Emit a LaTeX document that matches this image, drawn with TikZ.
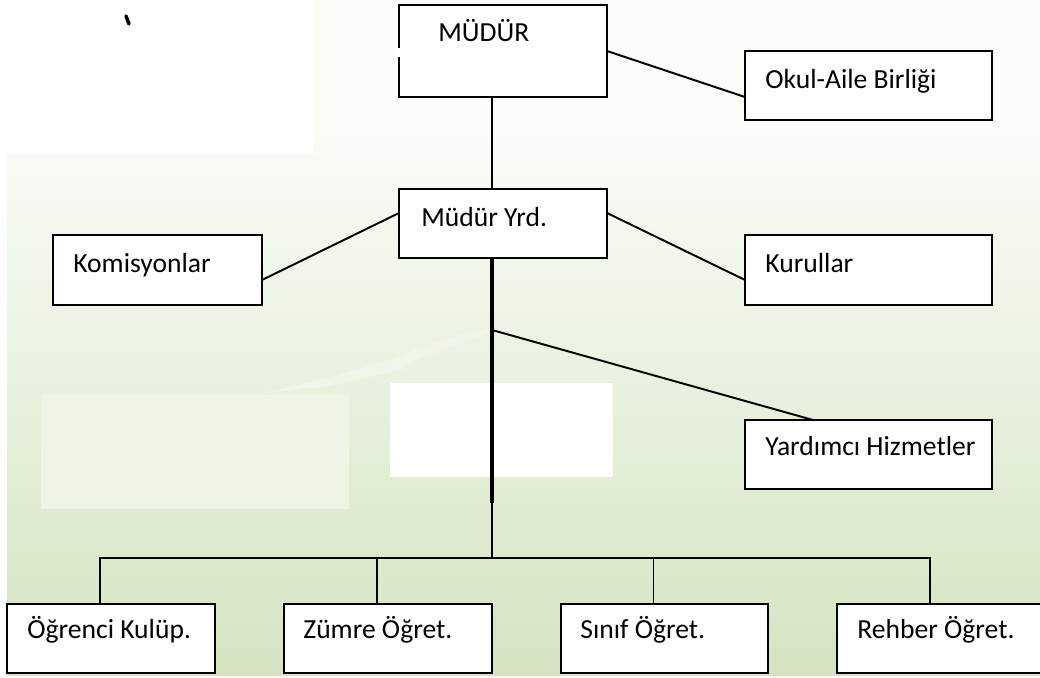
\documentclass[tikz,border=0pt]{standalone}
\usepackage{fontspec}
\setmainfont{Carlito}
\begin{document}
\begin{tikzpicture}[x=0.02cm,y=-0.02cm]
\newcommand{\pxlen}{0.02cm}
\tikzstyle{box}=[draw,line width=1.1pt,fill=white,anchor=north west,inner sep=0pt,outer sep=0pt]
\tikzstyle{lbl}=[anchor=base west,inner sep=0pt,font=\fontsize{15.7}{18}\selectfont]
\tikzstyle{edge}=[line width=1.1pt]
\tikzstyle{trunk}=[line width=2.6pt]
\definecolor{bgtop}{RGB}{251,253,249}
\definecolor{bggreen}{RGB}{212,228,193}
\definecolor{paleblock}{RGB}{238,244,230}
\definecolor{streak}{RGB}{240,246,234}
\useasboundingbox (0,0) rectangle (1040,678);
\clip (0,0) rectangle (1040,678);
% background
\fill[white] (0,0) rectangle (1040,678);
\fill[bgtop] (7,0) rectangle (1040,120);
\shade[top color=bgtop,bottom color=bggreen] (7,120) rectangle (1040,675);
\fill[white] (0,0) rectangle (313,153);
\fill[paleblock] (41,395) rectangle (349,509);
\fill[streak] (265,393) -- (330,377) -- (395,358) -- (420,347) -- (490,326) -- (490,333) -- (420,358) -- (400,370) -- (330,386) -- cycle;
\fill[white] (390,383) rectangle (613,477);
\draw[line width=2pt,line cap=round] (126,16) -- (129,24);
% boxes
\node[box,minimum width=208*\pxlen,minimum height=92*\pxlen] (mudur) at (399,5) {};
\node[box,minimum width=208*\pxlen,minimum height=69*\pxlen] (yrd) at (399,189) {};
\node[box,minimum width=247*\pxlen,minimum height=69*\pxlen] (okul) at (745,51) {};
\node[box,minimum width=209*\pxlen,minimum height=70*\pxlen] (komisyon) at (53,235) {};
\node[box,minimum width=247*\pxlen,minimum height=70*\pxlen] (kurul) at (745,235) {};
\node[box,minimum width=247*\pxlen,minimum height=69*\pxlen] (yardimci) at (745,420) {};
\node[box,minimum width=208*\pxlen,minimum height=69*\pxlen] (ogrenci) at (7,604) {};
\node[box,minimum width=208*\pxlen,minimum height=69*\pxlen] (zumre) at (284,604) {};
\node[box,minimum width=207*\pxlen,minimum height=69*\pxlen] (sinif) at (561,604) {};
\node[box,minimum width=260*\pxlen,minimum height=69*\pxlen] (rehber) at (837,604) {};
\fill[white] (396,48) rectangle (402,57);
% labels
\node[lbl] (tmudur) at ([shift={(39,37)}]mudur.north west) {MÜDÜR};
\node[lbl] (tyrd) at ([shift={(22,38)}]yrd.north west) {Müdür Yrd.};
\node[lbl] (tokul) at ([shift={(20,38)}]okul.north west) {Okul-Aile Birliği};
\node[lbl] (tkomisyon) at ([shift={(20,38)}]komisyon.north west) {Komisyonlar};
\node[lbl] (tkurul) at ([shift={(20,38)}]kurul.north west) {Kurullar};
\node[lbl] (tyardimci) at ([shift={(20,35)}]yardimci.north west) {Yardımcı Hizmetler};
\node[lbl] (togrenci) at ([shift={(20,34)}]ogrenci.north west) {Öğrenci Kulüp.};
\node[lbl] (tzumre) at ([shift={(19,34)}]zumre.north west) {Zümre Öğret.};
\node[lbl] (tsinif) at ([shift={(19,34)}]sinif.north west) {Sınıf Öğret.};
\node[lbl] (trehber) at ([shift={(20,34)}]rehber.north west) {Rehber Öğret.};
% connectors
\coordinate (trunkend) at (492,503);
\coordinate (branch) at (492,330);
\coordinate (bus) at (492,558);
\draw[edge] ([shift={(-11,0)}]mudur.south) edge ([shift={(-11,0)}]yrd.north);
\draw[edge] (mudur.east) edge ([shift={(0,11.5)}]okul.west);
\draw[edge] ([shift={(0,-10.5)}]yrd.west) edge ([shift={(0,10)}]komisyon.east);
\draw[edge] ([shift={(0,-10.5)}]yrd.east) edge ([shift={(0,10)}]kurul.west);
\draw[trunk] ([shift={(-11,0)}]yrd.south) -- (trunkend);
\draw[edge] (trunkend) -- (bus);
\draw[edge] (branch) edge ([shift={(-55.5,0)}]yardimci.north);
\draw[edge] (bus) -| ([shift={(-11,0)}]ogrenci.north);
\draw[edge] (bus) -| ([shift={(-11,0)}]zumre.north);
\draw[edge] (bus) -| ([shift={(-11,0)}]sinif.north);
\draw[edge] (bus) -| ([shift={(-37,0)}]rehber.north);
\end{tikzpicture}
\end{document}
